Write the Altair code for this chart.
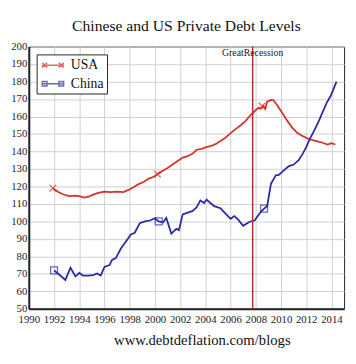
import altair as alt
import pandas as pd

# ---------------- data ----------------
usa_years = [1991.9, 1992.3, 1992.7, 1993.2, 1993.7, 1994.0, 1994.4, 1994.8, 1995.2, 1995.6,
             1996.0, 1996.5, 1997.0, 1997.5, 1997.9, 1998.3, 1998.7, 1999.1, 1999.5, 1999.9,
             2000.2, 2000.6, 2001.0, 2001.4, 2001.8, 2002.2, 2002.6, 2003.0, 2003.3, 2003.7,
             2004.0, 2004.4, 2004.8, 2005.2, 2005.6, 2006.0, 2006.4, 2006.8, 2007.2, 2007.6,
             2007.9, 2008.2, 2008.4, 2008.6, 2008.75, 2008.9, 2009.2, 2009.4, 2009.7, 2010.1,
             2010.5, 2010.9, 2011.3, 2011.7, 2012.1, 2012.5, 2012.9, 2013.3, 2013.7, 2014.0,
             2014.3]
usa_values = [119, 117, 115.5, 114.5, 114.8, 114.5, 113.6, 114.3, 115.6, 116.5,
              117, 116.8, 117, 116.8, 118, 119.5, 121.3, 122.5, 124.5, 125.5,
              127, 128.8, 130.5, 132.5, 134.5, 136.5, 137.3, 138.8, 141, 141.5,
              142.3, 143, 144.2, 146, 147.9, 150.5, 152.8, 155, 157.5, 161,
              163, 165, 164.5, 166, 164.5, 168.5, 169.5, 169.3, 166.5, 162,
              157.5, 153.5, 150.5, 148.8, 147.5, 146.5, 145.8, 145, 144, 144.8,
              144]

china_years = [1992.0, 1992.4, 1992.9, 1993.3, 1993.7, 1994.0, 1994.3, 1994.7, 1995.1, 1995.4,
               1995.7, 1996.0, 1996.4, 1996.6, 1996.9, 1997.3, 1997.7, 1998.1, 1998.4, 1998.8,
               1999.2, 1999.6, 2000.0, 2000.3, 2000.65, 2000.9, 2001.3, 2001.7, 2001.9, 2002.2,
               2002.6, 2003.0, 2003.3, 2003.6, 2003.9, 2004.1, 2004.4, 2004.7, 2005.2, 2005.6,
               2006.0, 2006.3, 2006.6, 2007.0, 2007.5, 2007.9, 2008.4, 2008.65, 2008.9, 2009.2,
               2009.6, 2009.8, 2010.2, 2010.6, 2011.0, 2011.4, 2011.7, 2012.0, 2012.3, 2012.6,
               2013.0, 2013.3, 2013.6, 2013.95, 2014.4]
china_values = [72, 69.6, 66.5, 73.5, 68.5, 70.5, 69, 69, 69.2, 70.2,
                69, 74, 75, 78, 79, 84.5, 88.5, 92.5, 93.5, 99,
                100, 100.5, 101.8, 100, 99.5, 102, 93, 95.7, 95, 104,
                105, 106, 108, 112, 110.5, 112.5, 110.5, 108.7, 107.5, 104.5,
                101.5, 103, 101, 97.5, 99.8, 100.5, 105.5, 107.3, 108.7, 121.5,
                126.5, 126.5, 129, 131.5, 132.5, 135, 138.5, 142.5, 147.5, 151.5,
                157.5, 162.5, 167.5, 172, 180]

usa_marker_years = [1991.9, 2000.2, 2008.5]
usa_marker_values = [119, 127, 166]
china_marker_years = [1992.0, 2000.3, 2008.65]
china_marker_values = [72, 100, 107.3]

series_names = ["USA", "China"]
series_colors = ["#d6322c", "#2a2aa8"]

recession_year = [2007.75]
recession_label = ["GreatRecession"]

x_ticks = list(range(1990, 2015, 2))
y_ticks = list(range(50, 201, 10))

title_text = "Chinese and US Private Debt Levels"
footer_text = "www.debtdeflation.com/blogs"

# ---------------- tables ----------------
lines_df = pd.DataFrame({
    "year": usa_years + china_years,
    "value": usa_values + china_values,
    "series": ["USA"] * len(usa_years) + ["China"] * len(china_years),
})
usa_markers_df = pd.DataFrame({"year": usa_marker_years, "value": usa_marker_values})
china_markers_df = pd.DataFrame({"year": china_marker_years, "value": china_marker_values})
legend_df = pd.DataFrame({"year": [1980, 1980], "value": [100, 100], "series": series_names})
rec_df = pd.DataFrame({"year": recession_year, "value": [125], "label": recession_label})

SERIF = "Liberation Serif"

x_scale = alt.Scale(domain=[1990, 2015], nice=False, zero=False)
y_scale = alt.Scale(domain=[50, 200], nice=False, zero=False)
color_scale = alt.Scale(domain=series_names, range=series_colors)

X_PATH = "M-1,-1L1,1M-1,1L1,-1"
# legend glyphs: line with a marker at each end (unit = 7px, symbol centre 7px from left)
LEG_USA = ("M-0.8,0L2.43,0M-0.76,-0.36L-0.04,0.36M-0.76,0.36L-0.04,-0.36"
           "M1.67,-0.36L2.39,0.36M1.67,0.36L2.39,-0.36")
LEG_CHINA = "M-0.8,0L2.43,0M-0.74,-0.34H-0.06V0.34H-0.74ZM1.69,-0.34H2.37V0.34H1.69Z"

common_axis = dict(labelFont=SERIF, labelFontSize=11, labelColor="#222",
                   grid=True, gridColor="#d0d0d0", gridWidth=1, gridOpacity=1,
                   ticks=False, domain=True, domainColor="#222", domainWidth=2,
                   labelOverlap=False, labelFlush=False, labelBound=False)

x_axis = alt.Axis(values=x_ticks, format="d", title=footer_text,
                  titleX=177, titleY=37, titleBaseline="alphabetic",
                  titleFont=SERIF, titleFontSize=15, titleFontWeight="normal",
                  titleColor="#111", labelPadding=5, **common_axis)
y_axis = alt.Axis(values=y_ticks, title=None, labelPadding=2,
                  minExtent=21, maxExtent=21, **common_axis)

def xe():
    return alt.X("year:Q", scale=x_scale, axis=x_axis)

def ye():
    return alt.Y("value:Q", scale=y_scale, axis=y_axis)

lines = alt.Chart(lines_df).mark_line(strokeWidth=1.8, clip=True).encode(
    x=xe(), y=ye(),
    color=alt.Color("series:N", scale=color_scale, legend=None),
    detail="series:N",
)

usa_marks = alt.Chart(usa_markers_df).mark_point(
    shape=X_PATH, size=45, filled=False, color=series_colors[0], strokeWidth=1.3
).encode(x=xe(), y=ye())

china_marks = alt.Chart(china_markers_df).mark_point(
    shape="square", size=50, filled=False, color=series_colors[1], strokeWidth=1.3
).encode(x=xe(), y=ye())

leg = alt.Legend(title=None, orient="top-left", offset=8, symbolSize=196)
legend_layer = alt.Chart(legend_df).mark_point(
    filled=False, clip=True, size=196, strokeWidth=1.5
).encode(
    x=xe(), y=ye(),
    color=alt.Color("series:N", scale=color_scale, legend=leg),
    shape=alt.Shape("series:N", scale=alt.Scale(domain=series_names, range=[LEG_USA, LEG_CHINA]),
                    legend=leg),
)

rec_rule = alt.Chart(rec_df).mark_rule(color="#a8332b", strokeWidth=1.5).encode(x=xe())
rec_text = alt.Chart(rec_df).mark_text(
    font=SERIF, fontSize=10, color="#222", baseline="middle", align="center"
).encode(x=xe(), y=alt.value(7), text="label:N")

chart = alt.layer(
    lines, rec_rule, usa_marks, china_marks, legend_layer, rec_text
).resolve_scale(
    color="independent", shape="independent"
).properties(
    width=322.5, height=268.2,
    autosize=alt.AutoSizeParams(type="none"),
    padding={"left": 21.3, "top": 35.5, "right": 4, "bottom": 44},
    title=alt.TitleParams(title_text, font=SERIF, fontSize=16, fontWeight="normal",
                          color="#111", anchor="middle", offset=7),
).configure_view(
    stroke="#222", strokeWidth=1
).configure_legend(
    strokeColor="#222", fillColor="white", padding=3, cornerRadius=0,
    labelFont=SERIF, labelFontSize=14, labelColor="#111",
    symbolStrokeWidth=1.5, rowPadding=4, labelOffset=16, symbolSize=196,
)

chart.save("out.html", embed_options={"renderer": "svg", "actions": False})
